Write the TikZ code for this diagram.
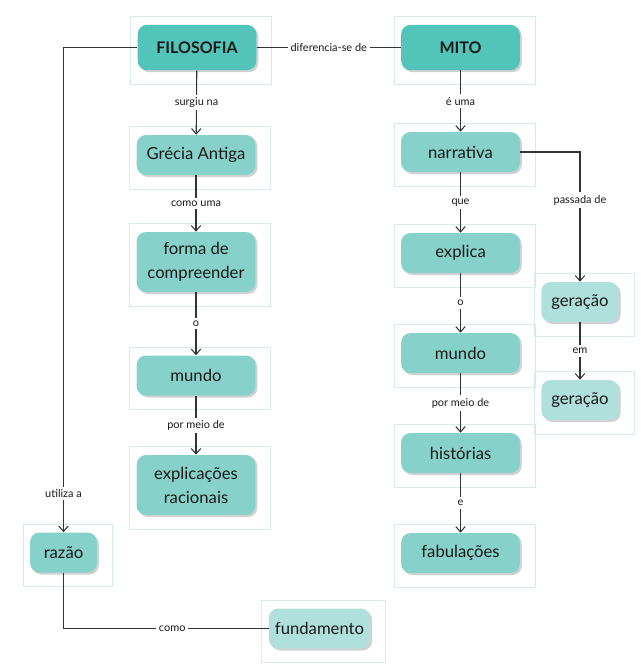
\documentclass[tikz,border=0pt]{standalone}
\usepackage{fontspec}
\setmainfont{Lato}
\usepackage{tikz}
\usetikzlibrary{arrows.meta,shadows}

\definecolor{tealdark}{HTML}{52C4B9}
\definecolor{tealmid}{HTML}{86D2CA}
\definecolor{teallight}{HTML}{AFE0DB}
\definecolor{framecol}{HTML}{D3ECE9}
\definecolor{linecol}{HTML}{333333}

\tikzset{
  box/.style={rounded corners=7pt,fill=tealmid,text=black!90,font=\fontsize{12.5}{18}\selectfont,
    align=center,inner sep=0pt,minimum width=89pt,minimum height=30pt,
    drop shadow={shadow xshift=1.5pt,shadow yshift=-1.5pt,opacity=0.18,fill=black}},
  mainbox/.style={box,fill=tealdark,font=\fontsize{12}{14}\selectfont\bfseries,minimum height=34pt},
  lightbox/.style={box,fill=teallight},
  frm/.style={draw=framecol,line width=0.6pt},
  arr/.style={draw=linecol,line width=0.8pt,-{Straight Barb[length=4pt,width=7pt]}},
  lnk/.style={draw=linecol,line width=0.8pt},
  lbl/.style={fill=white,inner sep=2pt,text=black!90,font=\fontsize{8.2}{10}\selectfont}
}

\begin{document}
\begin{tikzpicture}[x=0.75pt,y=-0.75pt]
  \useasboundingbox (0,0) rectangle (640,671);
  % left column
  \node[mainbox] (fil) at (197,47.5) {FILOSOFIA};
  \node[box] (gre) at (196,155) {Grécia Antiga};
  \node[box,minimum height=45pt] (for) at (196,262) {forma de\\compreender};
  \node[box] (mul) at (196,375.5) {mundo};
  \node[box,minimum height=45pt] (exp) at (196,485) {explicações\\racionais};
  \node[box,minimum width=50pt] (raz) at (63.5,552.5) {razão};
  \node[lightbox,minimum width=76pt] (fun) at (319.5,628.5) {fundamento};
  % right column
  \node[mainbox] (mit) at (460.5,47.5) {MITO};
  \node[box] (nar) at (460.5,152) {narrativa};
  \node[box] (exl) at (460.5,253) {explica};
  \node[lightbox,minimum width=58pt] (gea) at (580,302) {geração};
  \node[box] (mur) at (460.5,353) {mundo};
  \node[lightbox,minimum width=58pt] (geb) at (580,400) {geração};
  \node[box] (his) at (460.5,453) {histórias};
  \node[box] (fab) at (460.5,553) {fabulações};

  % frames
  \foreach \n in {fil,gre,for,mul,exp,raz,fun,mit,nar,exl,gea,mur,geb,his,fab}
    \draw[frm] ([shift={(-7,-8)}]\n.north west) rectangle ([shift={(15,14)}]\n.south east);

  % links
  \draw[lnk] (fil.east) -- node[lbl] {diferencia-se de} (mit.west);
  \draw[arr] (fil) -- node[lbl] {surgiu na} (gre);
  \draw[arr] (gre) -- node[lbl] {como uma} (for);
  \draw[arr] (for) -- node[lbl] {o} (mul);
  \draw[arr] (mul) -- node[lbl] {por meio de} (exp);
  \draw[arr] (fil.west) -| node[lbl,pos=0.96] {utiliza a} (raz.north);
  \draw[lnk] (raz.south) |- node[lbl,pos=0.765] {como} (fun.west);
  \draw[arr] (mit) -- node[lbl] {é uma} (nar);
  \draw[arr] (nar) -- node[lbl] {que} (exl);
  \draw[arr] (exl) -- node[lbl] {o} (mur);
  \draw[arr] (mur) -- node[lbl] {por meio de} (his);
  \draw[arr] (his) -- node[lbl] {e} (fab);
  \draw[arr] (nar.east) -| node[lbl,pos=0.685] {passada de} (gea.north);
  \draw[arr] (gea) -- node[lbl] {em} (geb);
\end{tikzpicture}
\end{document}
